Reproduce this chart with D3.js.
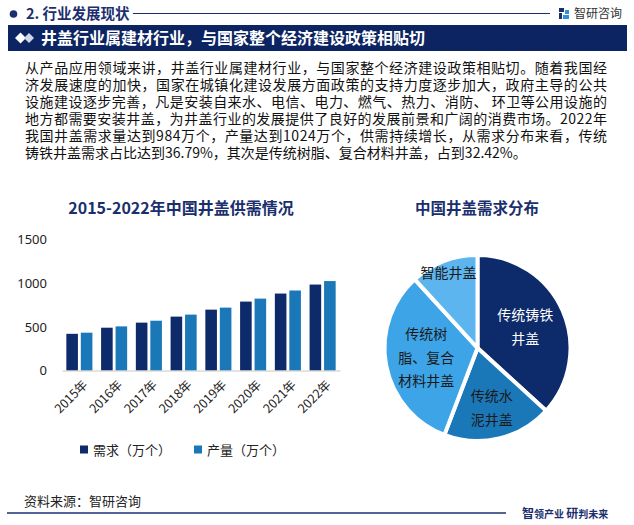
<!DOCTYPE html>
<html>
<head>
<meta charset="utf-8">
<script src="https://cdn.jsdelivr.net/npm/d3@7"></script>
<style>
  html, body { margin: 0; padding: 0; background: #fff; }
  svg { display: block; font-family: "Noto Sans CJK SC", "Noto Sans", sans-serif; }
</style>
</head>
<body>
<div id="chart"></div>
<script>
// Chart data
var years = ["2015年", "2016年", "2017年", "2018年", "2019年", "2020年", "2021年", "2022年"];
var demand = [420, 490, 548, 617, 697, 789, 881, 984];
var output = [433, 505, 570, 640, 720, 823, 916, 1024];
var seriesNames = ["需求（万个）", "产量（万个）"];
var yTicks = [0, 500, 1000, 1500];

var pieNames = ["传统铸铁井盖", "传统水泥井盖", "传统树脂、复合材料井盖", "智能井盖"];
var pieShares = [36.79, 19.0, 32.42, 11.79];
var pieLabelLines = [["传统铸铁", "井盖"], ["传统水", "泥井盖"], ["传统树", "脂、复合", "材料井盖"], ["智能井盖"]];

var paragraphLines = [
    "从产品应用领域来讲，井盖行业属建材行业，与国家整个经济建设政策相贴切。随着我国经",
    "济发展速度的加快，国家在城镇化建设发展方面政策的支持力度逐步加大，政府主导的公共",
    "设施建设逐步完善，凡是安装自来水、电信、电力、燃气、热力、消防、 环卫等公用设施的",
    "地方都需要安装井盖，为井盖行业的发展提供了良好的发展前景和广阔的消费市场。2022年",
    "我国井盖需求量达到984万个，产量达到1024万个，供需持续增长，从需求分布来看，传统",
    "铸铁井盖需求占比达到36.79%，其次是传统树脂、复合材料井盖，占到32.42%。"
];

// Colours
var navy = "#0c2461";
var titleBlue = "#1b2f6e";
var barColors = ["#0d2a6b", "#1a77b8"];
var pieColors = ["#0d2a6b", "#1a77b8", "#3ca4e7", "#5cb5ee"];

var svg = d3.select("#chart").append("svg")
    .attr("width", 634)
    .attr("height", 525);

// Header row
svg.append("circle").attr("cx", 13.5).attr("cy", 14).attr("r", 3.8).attr("fill", titleBlue);
svg.append("text")
    .attr("x", 26).attr("y", 14).attr("dy", "0.36em")
    .attr("font-size", 14.5).attr("font-weight", "bold").attr("fill", titleBlue)
    .text("2. 行业发展现状");
svg.append("line")
    .attr("x1", 133).attr("x2", 550).attr("y1", 13.5).attr("y2", 13.5)
    .attr("stroke", titleBlue).attr("stroke-width", 1);

// Small logo mark
var logo = svg.append("g").attr("transform", "translate(559,8)");
logo.append("rect").attr("x", 0).attr("y", 0).attr("width", 5).attr("height", 4).attr("fill", titleBlue);
logo.append("rect").attr("x", 0).attr("y", 5).attr("width", 3).attr("height", 6).attr("fill", titleBlue);
logo.append("rect").attr("x", 6).attr("y", 2).attr("width", 4).attr("height", 4).attr("fill", "#2f8fd8");
logo.append("rect").attr("x", 4).attr("y", 7).attr("width", 6).attr("height", 4).attr("fill", "#2f8fd8");
svg.append("text")
    .attr("x", 574).attr("y", 14).attr("dy", "0.36em")
    .attr("font-size", 12).attr("fill", "#333")
    .text("智研咨询");

// Banner
svg.append("rect").attr("x", 8).attr("y", 25).attr("width", 619).attr("height", 26).attr("fill", navy);
svg.append("path").attr("d", "M15,38 L20.5,32.5 L26,38 L20.5,43.5 Z").attr("fill", "#fff");
svg.append("path").attr("d", "M24,38 L29,33 L34,38 L29,43 Z").attr("fill", "#cfd6e6");
svg.append("text")
    .attr("x", 41).attr("y", 38).attr("dy", "0.36em")
    .attr("font-size", 16).attr("font-weight", "bold").attr("fill", "#fff")
    .text("井盖行业属建材行业，与国家整个经济建设政策相贴切");

// Paragraph
svg.append("g").selectAll("text")
    .data(paragraphLines)
    .enter()
    .append("text")
    .attr("x", 25)
    .attr("y", function (d, i) { return 68 + i * 17; })
    .attr("dy", "0.36em")
    .attr("font-size", 14)
    .attr("fill", "#111")
    .each(function (d, i) {
        if (i < paragraphLines.length - 1) {
            d3.select(this).attr("textLength", 582).attr("lengthAdjust", "spacing");
        }
    })
    .text(function (d) { return d; });

// ---------- Bar chart ----------
svg.append("text")
    .attr("x", 181).attr("y", 208).attr("dy", "0.36em")
    .attr("text-anchor", "middle")
    .attr("font-size", 16).attr("font-weight", "bold").attr("fill", titleBlue)
    .text("2015-2022年中国井盖供需情况");

var yScale = d3.scaleLinear().domain([0, 1500]).range([370.5, 239.5]);

var xScale0 = d3.scaleBand()
    .domain(years)
    .range([62, 340])
    .paddingInner(0.25)
    .paddingOuter(0.125);

var xScale1 = d3.scaleBand()
    .domain([0, 1])
    .range([0, xScale0.bandwidth()])
    .paddingInner(0.2);

// Y axis labels (no axis line)
var yAxis = svg.append("g")
    .attr("transform", "translate(47,0)")
    .call(d3.axisLeft(yScale).tickValues(yTicks).tickFormat(d3.format("d")).tickSize(0).tickPadding(0));
yAxis.select(".domain").remove();
yAxis.selectAll("text")
    .attr("font-family", "'Noto Sans', sans-serif")
    .attr("font-size", 13)
    .attr("fill", "#222");

// Bars
var groups = svg.append("g")
    .selectAll(".bar")
    .data(years)
    .enter()
    .append("g")
    .attr("class", "bar")
    .attr("transform", function (d) { return "translate(" + xScale0(d) + ",0)"; });

groups.selectAll("rect")
    .data(function (d, i) { return [demand[i], output[i]]; })
    .enter()
    .append("rect")
    .attr("x", function (d, i) { return xScale1(i); })
    .attr("width", xScale1.bandwidth())
    .attr("y", function (d) { return yScale(d); })
    .attr("height", function (d) { return yScale(0) - yScale(d); })
    .attr("fill", function (d, i) { return barColors[i]; });

// X axis
var xAxis = svg.append("g")
    .attr("transform", "translate(0," + yScale(0) + ")")
    .call(d3.axisBottom(xScale0).tickSize(0).tickPadding(0));
xAxis.select(".domain").attr("stroke", "#c8c8c8").attr("stroke-width", 1);
xAxis.selectAll("text")
    .attr("font-family", "'Noto Sans CJK SC', sans-serif")
    .attr("font-size", 12.5)
    .attr("fill", "#222")
    .attr("text-anchor", "end")
    .attr("dy", "0.35em")
    .attr("transform", "translate(6,12) rotate(-45)");

// Legend
var legend = svg.append("g")
    .selectAll(".legend-item")
    .data(seriesNames)
    .enter()
    .append("g")
    .attr("class", "legend-item")
    .attr("transform", function (d, i) { return "translate(" + (80 + i * 114) + ",450)"; });
legend.append("rect")
    .attr("x", 0).attr("y", -4.5)
    .attr("width", 8).attr("height", 8)
    .attr("fill", function (d, i) { return barColors[i]; });
legend.append("text")
    .attr("x", 13).attr("y", 0).attr("dy", "0.36em")
    .attr("font-size", 13).attr("fill", "#222")
    .text(function (d) { return d; });

// ---------- Pie chart ----------
svg.append("text")
    .attr("x", 477).attr("y", 208).attr("dy", "0.36em")
    .attr("text-anchor", "middle")
    .attr("font-size", 15.5).attr("font-weight", "bold").attr("fill", titleBlue)
    .text("中国井盖需求分布");

var radius = 93;
var pieG = svg.append("g").attr("transform", "translate(477.5,348)");

var pie = d3.pie().sort(null).value(function (d) { return d; });
var arcs = pie(pieShares);
var arc = d3.arc().innerRadius(0).outerRadius(radius);

pieG.selectAll("path")
    .data(arcs)
    .enter()
    .append("path")
    .attr("d", arc)
    .attr("fill", function (d, i) { return pieColors[i]; })
    .attr("stroke", "#fff")
    .attr("stroke-width", 4)
    .attr("stroke-linejoin", "round");

// Slice labels
pieG.selectAll(".pie-label")
    .data(arcs)
    .enter()
    .append("text")
    .attr("class", "pie-label")
    .attr("font-size", 14)
    .attr("text-anchor", "middle")
    .attr("fill", function (d, i) { return i === 0 ? "#fff" : "#1a1a1a"; })
    .each(function (d, i) {
        var f = d.value < 15 ? 0.86 : (d.value < 25 ? 0.66 : 0.56);
        var la = d3.arc().innerRadius(radius * f).outerRadius(radius * f);
        var c = la.centroid(d);
        var lines = pieLabelLines[i];
        var lh = 23.5;
        var t = d3.select(this);
        lines.forEach(function (line, j) {
            t.append("tspan")
                .attr("x", c[0])
                .attr("y", c[1] + (j - (lines.length - 1) / 2) * lh)
                .attr("dy", "0.36em")
                .text(line);
        });
    });

// ---------- Footer ----------
svg.append("text")
    .attr("x", 24).attr("y", 501).attr("dy", "0.36em")
    .attr("font-size", 13).attr("fill", "#222")
    .text("资料来源：智研咨询");
svg.append("line")
    .attr("x1", 7).attr("x2", 506).attr("y1", 513).attr("y2", 513)
    .attr("stroke", titleBlue).attr("stroke-width", 1.5);
var slogan = svg.append("text")
    .attr("x", 522).attr("y", 512).attr("dy", "0.36em")
    .attr("fill", titleBlue).attr("font-weight", "bold");
slogan.append("tspan").attr("font-size", 12).text("智");
slogan.append("tspan").attr("font-size", 10).text("领产业 ");
slogan.append("tspan").attr("font-size", 12).text("研");
slogan.append("tspan").attr("font-size", 10).text("判未来");
</script>
</body>
</html>
